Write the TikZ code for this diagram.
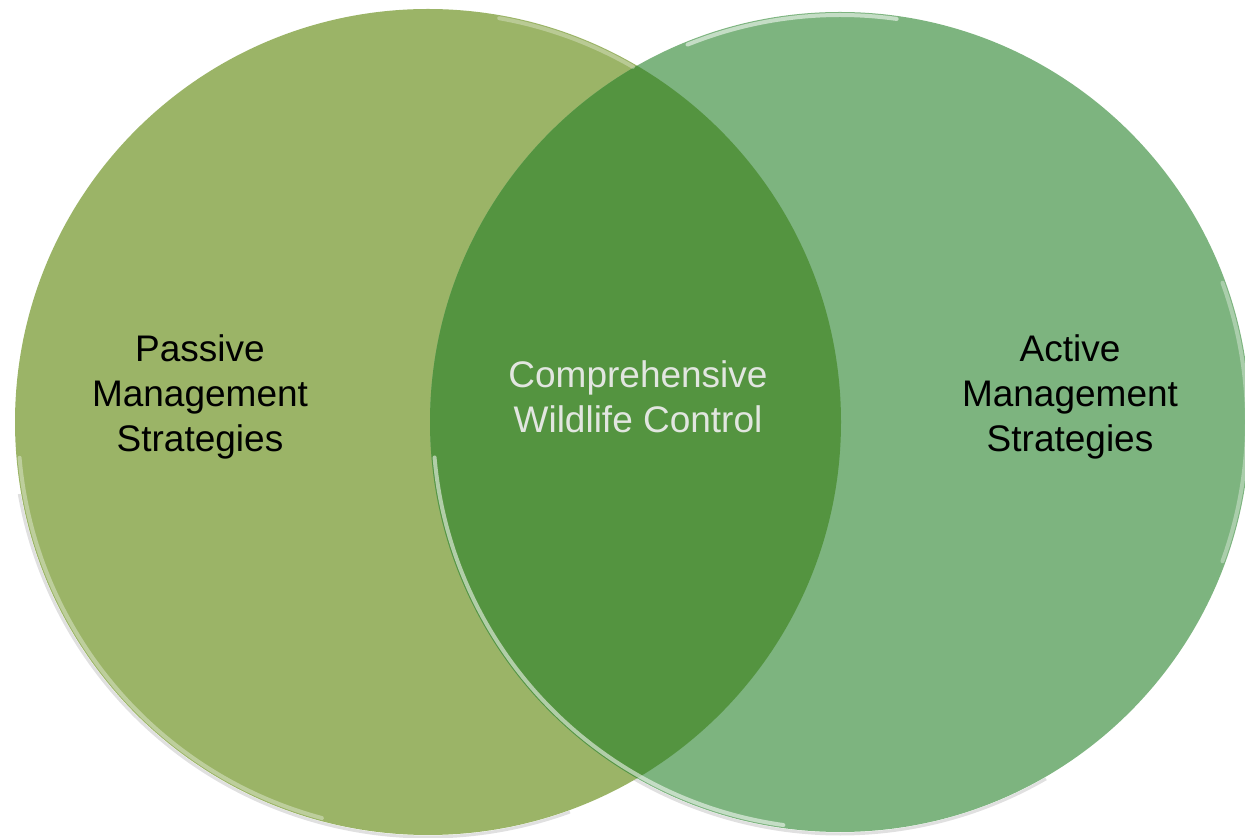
\documentclass[tikz,border=0pt]{standalone}
\usepackage{fontspec}
\setmainfont{Liberation Sans}
\definecolor{passivegreen}{RGB}{155,180,103}
\definecolor{activegreen}{RGB}{125,180,127}
\definecolor{overlapgreen}{RGB}{84,148,64}
\definecolor{centregrey}{RGB}{226,230,224}
\begin{document}
\begin{tikzpicture}[x=1pt,y=1pt,
    venntext/.style={align=center,inner sep=0pt,font=\fontsize{37}{45}\selectfont},
    rim/.style={white,line width=4pt,opacity=0.55,line cap=round},
    shade/.style={black,line width=3pt,opacity=0.12}]
    \useasboundingbox (0,0) rectangle (1245,838);
    \clip (0,0) rectangle (1245,838);

    \coordinate (passivec) at (428,416);
    \coordinate (activec) at (840,416);

    % soft shadow under both circles
    \draw[shade] (passivec) ++(190:415) arc[start angle=190,end angle=290,radius=415];
    \draw[shade] (activec) ++(200:412) arc[start angle=200,end angle=300,radius=412];

    \fill[passivegreen] (passivec) circle (413);
    \fill[activegreen] (activec) circle (410);
    \begin{scope}
        \clip (passivec) circle (413);
        \fill[overlapgreen] (activec) circle (410);
    \end{scope}

    % glossy rims
    \draw[rim,opacity=0.35] (passivec) ++(185:410) arc[start angle=185,end angle=255,radius=410];
    \draw[rim,opacity=0.3] (passivec) ++(60:410) arc[start angle=60,end angle=80,radius=410];
    \draw[rim] (activec) ++(82:407) arc[start angle=82,end angle=112,radius=407];
    \draw[rim] (activec) ++(185:407) arc[start angle=185,end angle=262,radius=407];
    \draw[rim,opacity=0.35] (activec) ++(-20:407) arc[start angle=-20,end angle=20,radius=407];

    \node[venntext] (passive) at (200,441) {Passive\\Management\\Strategies};
    \node[venntext] (active) at (1070,441) {Active\\Management\\Strategies};
    \node[venntext,text=centregrey] (wildlife) at (638,441) {Comprehensive\\Wildlife Control};
\end{tikzpicture}
\end{document}
